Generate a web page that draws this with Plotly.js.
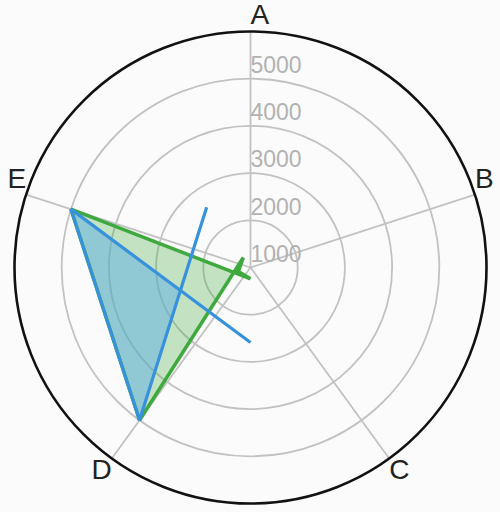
<!DOCTYPE html>
<html>
<head>
<meta charset="utf-8">
<script src="https://cdn.plot.ly/plotly-3.0.1.min.js"></script>
<style>
  html, body { margin: 0; padding: 0; background: #fbfbfb; }
  #chart { width: 500px; height: 512px; }
</style>
</head>
<body>
<div id="chart"></div>
<script>
const categories = ['A', 'B', 'C', 'D', 'E'];
const categoryAngles = [0, 72, 144, 216, 288];
const categoryLabelPositions = ['top right', 'top right', 'bottom right', 'bottom left', 'top left'];
const greenValues = [760, 730, 740, 5000, 5000];
const blueValues = [-590, null, -580, 5000, 5000];
const radialTicks = [1000, 2000, 3000, 4000, 5000];
const radialTickLabels = ['1000', '2000', '3000', '4000', '5000'];
const radialRange = [1000, 6000];

const GREEN = 'rgb(62, 170, 62)';
const BLUE = 'rgb(55, 145, 220)';
const FONT = 'Liberation Sans, Arial, sans-serif';
const R_MIN = radialRange[0];

// values under the range minimum go through the centre and land on the opposite side
function toPolar(value, angle) {
  if (value === null) return { r: null, theta: angle };
  if (value >= R_MIN) return { r: value, theta: angle };
  return { r: 2 * R_MIN - value, theta: (angle + 180) % 360 };
}

function closedPath(values) {
  const pts = values.map((v, i) => toPolar(v, categoryAngles[i]));
  pts.push(pts[0]);
  return { r: pts.map((p) => p.r), theta: pts.map((p) => p.theta) };
}

function toXY(value, angle) {
  const s = value - R_MIN;
  const a = (angle * Math.PI) / 180;
  return [s * Math.sin(a), s * Math.cos(a)];
}

function crossing(p1, p2, p3, p4) {
  const den = (p1[0] - p2[0]) * (p3[1] - p4[1]) - (p1[1] - p2[1]) * (p3[0] - p4[0]);
  const t = ((p1[0] - p3[0]) * (p3[1] - p4[1]) - (p1[1] - p3[1]) * (p3[0] - p4[0])) / den;
  return [p1[0] + t * (p2[0] - p1[0]), p1[1] + t * (p2[1] - p1[1])];
}

// shaded part: D, E and the point where the C-D and E-A edges cross
function fillRegion(values) {
  const [a, c, d, e] = [0, 2, 3, 4].map((i) => toXY(values[i], categoryAngles[i]));
  const x = crossing(c, d, e, a);
  const xTheta = ((Math.atan2(x[0], x[1]) * 180) / Math.PI + 360) % 360;
  return {
    r: [values[3], values[4], R_MIN + Math.hypot(x[0], x[1])],
    theta: [categoryAngles[3], categoryAngles[4], xTheta]
  };
}

function fillTrace(values, color) {
  const region = fillRegion(values);
  return {
    type: 'scatterpolar',
    mode: 'lines',
    r: region.r,
    theta: region.theta,
    fill: 'toself',
    fillcolor: color,
    line: { width: 0 },
    hoverinfo: 'skip'
  };
}

function lineTrace(values, color, width) {
  const path = closedPath(values);
  return {
    type: 'scatterpolar',
    mode: 'lines',
    r: path.r,
    theta: path.theta,
    connectgaps: false,
    line: { color, width }
  };
}

const radialLabelTrace = {
  type: 'scatterpolar',
  mode: 'text',
  r: radialTicks,
  theta: radialTicks.map(() => 0),
  text: radialTickLabels,
  textposition: 'top right',
  textfont: { size: 23, color: '#b2b2b2', family: FONT },
  cliponaxis: false,
  hoverinfo: 'skip'
};

const categoryLabelTrace = {
  type: 'scatterpolar',
  mode: 'text',
  r: categories.map(() => radialRange[1]),
  theta: categoryAngles,
  text: categories,
  textposition: categoryLabelPositions,
  textfont: { size: 28, color: '#222222', family: FONT },
  cliponaxis: false,
  hoverinfo: 'skip'
};

const traces = [
  fillTrace(greenValues, 'rgba(62, 170, 62, 0.3)'),
  fillTrace(blueValues, 'rgba(93, 174, 227, 0.5)'),
  lineTrace(greenValues, GREEN, 3.5),
  lineTrace(blueValues, BLUE, 3.2),
  radialLabelTrace,
  categoryLabelTrace
];

const layout = {
  width: 500,
  height: 512,
  margin: { l: 0, r: 0, t: 0, b: 0 },
  paper_bgcolor: '#fbfbfb',
  showlegend: false,
  font: { family: FONT },
  polar: {
    domain: { x: [0.029, 0.973], y: [0.0166, 0.9385] },
    bgcolor: '#fbfbfb',
    radialaxis: {
      range: radialRange,
      tickvals: radialTicks,
      showticklabels: false,
      showline: false,
      ticks: '',
      angle: 90,
      gridcolor: '#c2c2c2',
      gridwidth: 1.8
    },
    angularaxis: {
      type: 'linear',
      thetaunit: 'degrees',
      rotation: 90,
      direction: 'clockwise',
      tickvals: categoryAngles,
      showticklabels: false,
      ticks: '',
      showgrid: true,
      gridcolor: '#c2c2c2',
      gridwidth: 1.8,
      showline: true,
      linecolor: '#111111',
      linewidth: 2.6
    }
  }
};

Plotly.newPlot('chart', traces, layout, { staticPlot: true });
</script>
</body>
</html>
